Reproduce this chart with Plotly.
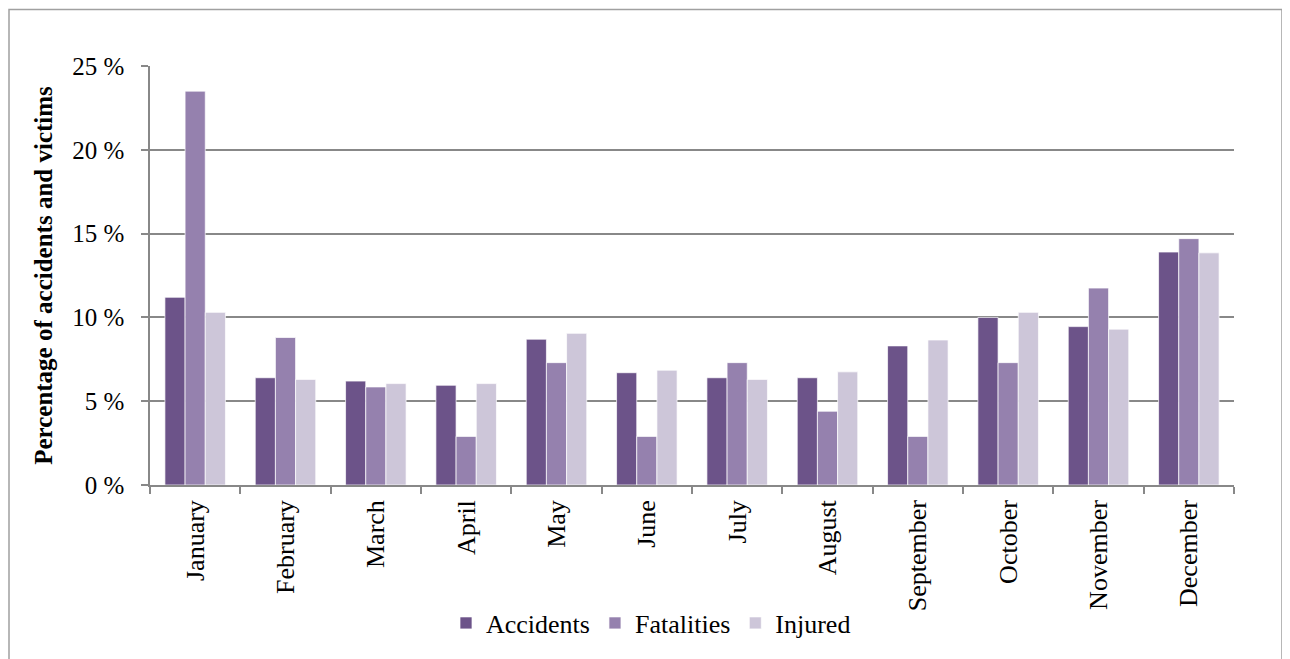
import plotly.graph_objects as go

months = ["January", "February", "March", "April", "May", "June", "July",
          "August", "September", "October", "November", "December"]
accidents = [11.2, 6.4, 6.2, 5.95, 8.7, 6.7, 6.4, 6.4, 8.3, 10.0, 9.45, 13.9]
fatalities = [23.5, 8.8, 5.85, 2.9, 7.3, 2.9, 7.3, 4.4, 2.9, 7.3, 11.75, 14.7]
injured = [10.3, 6.3, 6.05, 6.05, 9.05, 6.85, 6.3, 6.75, 8.65, 10.3, 9.3, 13.85]
y_ticks = [0, 5, 10, 15, 20, 25]
y_ticktext = ["0 %", "5 %", "10 %", "15 %", "20 %", "25 %"]

series = [("Accidents", accidents, "#6C5389"),
          ("Fatalities", fatalities, "#9581AE"),
          ("Injured", injured, "#CDC6D9")]

fig = go.Figure()
for name, vals, col in series:
    fig.add_trace(go.Bar(x=months, y=vals, name=name, marker_color=col,
                         marker_line=dict(color="rgba(255,255,255,0.7)", width=1)))

FF = "Liberation Serif"
# page body has an 8px margin, so figure origin sits at screen (8, 8)
OFF = 8
W, H = 1290 - OFF, 659 - OFF
PX0, PX1, PY0, PY1 = 150, 1234, 66, 488   # plot area in screen coords
L, T = PX0 - OFF, PY0 - OFF
R = W - (PX1 - OFF)
B = H - (PY1 - OFF)
pw, ph = PX1 - PX0, PY1 - PY0

fig.update_layout(
    width=W, height=H,
    margin=dict(l=L, r=R, t=T, b=B, pad=0),
    paper_bgcolor="white", plot_bgcolor="white",
    barmode="group", bargap=0.33, bargroupgap=0,
    font=dict(family=FF, size=25, color="black"),
    showlegend=True,
    legend=dict(orientation="h", x=(651 - PX0) / pw, xanchor="center",
                y=(PY1 - 627) / ph, yanchor="middle",
                font=dict(family=FF, size=26, color="black"),
                traceorder="normal"),
    xaxis=dict(type="category", showline=True, linecolor="#888888", linewidth=1.5,
               ticks="outside", tickson="boundaries", ticklen=7, tickcolor="#888888",
               tickwidth=1.5, tickangle=-90, showgrid=False, ticklabelstandoff=3,
               tickfont=dict(family=FF, size=26, color="black")),
    yaxis=dict(range=[0, 25], tickmode="array", tickvals=y_ticks, ticktext=y_ticktext,
               showline=True, linecolor="#888888", linewidth=1.5,
               ticks="outside", ticklen=7, tickcolor="#888888", tickwidth=1.5,
               showgrid=True, gridcolor="#888888", gridwidth=1.5,
               zeroline=False, ticklabelstandoff=12,
               tickfont=dict(family=FF, size=25, color="black"),
               title=dict(text="<b>Percentage of accidents and victims</b>",
                          font=dict(family=FF, size=25, color="black"), standoff=12)),
    shapes=[dict(type="rect", xref="paper", yref="paper",
                 x0=(9 - PX0) / pw, x1=(1282 - PX0) / pw,
                 y0=(PY1 - 700) / ph, y1=(PY1 - 9) / ph,
                 line=dict(color="#A0A0A0", width=1.5), layer="below")],
)

fig.write_html("out.html")
